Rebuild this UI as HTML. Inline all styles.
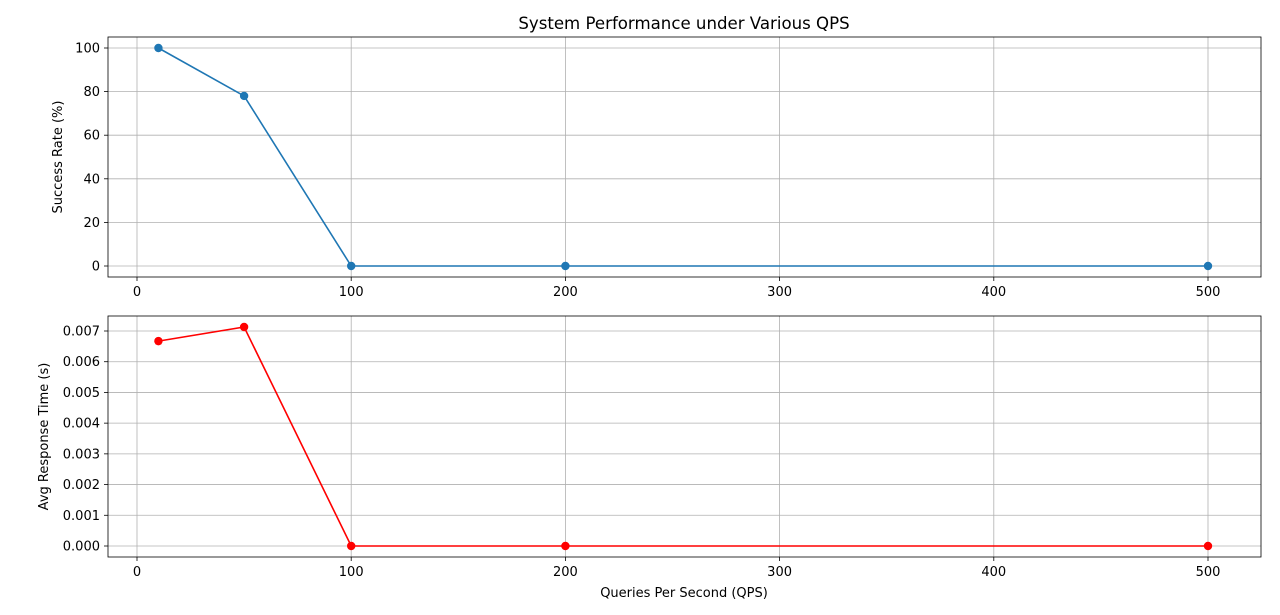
<!DOCTYPE html>
<html><head><meta charset="utf-8">
<style>
html,body{margin:0;padding:0;background:#fff;}
svg{display:block;font-family:"DejaVu Sans","Liberation Sans",sans-serif;}
</style></head>
<body>
<svg id="chart" width="1280" height="615" viewBox="0 0 1280 615" xmlns="http://www.w3.org/2000/svg">
<text x="684" y="29" font-size="16.6" text-anchor="middle" fill="#000">System Performance under Various QPS</text>
<g id="top"></g>
<g id="bottom"></g>
<text x="684" y="597" font-size="13" text-anchor="middle">Queries Per Second (QPS)</text>
</svg>
<script>
const qps = [10, 50, 100, 200, 500];
const successRate = [100, 78, 0, 0, 0];
const responseTime = [0.00667, 0.00713, 0, 0, 0];
const xTicks = [0, 100, 200, 300, 400, 500];
const successTicks = [0, 20, 40, 60, 80, 100];
const timeTicks = [0, 0.001, 0.002, 0.003, 0.004, 0.005, 0.006, 0.007];

const NS = "http://www.w3.org/2000/svg";
function mk(tag, attrs, parent){
  const e = document.createElementNS(NS, tag);
  for (const k in attrs) e.setAttribute(k, attrs[k]);
  parent.appendChild(e);
  return e;
}
const xScale = v => 137 + (v - 0) * (1208 - 137) / 500;

function panel(g, box, yScale, yTicks, fmt, vals, color, yLabel, prefix){
  const [L, T, R, B] = box;
  xTicks.forEach(t => {
    const l = mk('line', {x1: xScale(t), x2: xScale(t), y1: T, y2: B, stroke: '#b0b0b0', 'stroke-width': 0.8}, g);
    
    
    mk('line', {x1: xScale(t), x2: xScale(t), y1: B, y2: B + 4, stroke: '#000', 'stroke-width': 0.8}, g);
    const tx = mk('text', {x: xScale(t), y: B + 19, 'font-size': 13, 'text-anchor': 'middle'}, g);
    tx.textContent = t;
    
    
  });
  yTicks.forEach(t => {
    const y = yScale(t);
    const l = mk('line', {x1: L, x2: R, y1: y, y2: y, stroke: '#b0b0b0', 'stroke-width': 0.8}, g);
    
    
    mk('line', {x1: L - 4, x2: L, y1: y, y2: y, stroke: '#000', 'stroke-width': 0.8}, g);
    const tx = mk('text', {x: L - 8, y: y + 4.5, 'font-size': 13, 'text-anchor': 'end'}, g);
    tx.textContent = fmt(t);
    
    
  });
  const fr = mk('rect', {x: L, y: T, width: R - L, height: B - T, fill: 'none', stroke: '#000', 'stroke-width': 0.8}, g);
  
  
  const pts = qps.map((q, i) => xScale(q) + ',' + yScale(vals[i])).join(' ');
  const pl = mk('polyline', {points: pts, fill: 'none', stroke: color, 'stroke-width': 1.6}, g);
  
  
  qps.forEach((q, i) => {
    const c = mk('circle', {cx: xScale(q), cy: yScale(vals[i]), r: 4.2, fill: color}, g);
    
    
  });
  const cy = (T + B) / 2;
  const yl = mk('text', {x: 0, y: 0, 'font-size': 13, 'text-anchor': 'middle', transform: 'translate(' + (prefix === 'top' ? 62 : 48) + ',' + cy + ') rotate(-90)'}, g);
  yl.textContent = yLabel;
  
  
}

const ySuccess = v => 266 - v * (266 - 48) / 100;
const yTime = v => 546 - v * (546 - 331) / 0.007;
panel(document.getElementById('top'), [108, 37, 1261, 277], ySuccess, successTicks, t => t, successRate, '#1f77b4', 'Success Rate (%)', 'top');
panel(document.getElementById('bottom'), [108, 316, 1261, 557], yTime, timeTicks, t => t.toFixed(3), responseTime, '#ff0000', 'Avg Response Time (s)', 'bottom');
</script>
</body></html>
